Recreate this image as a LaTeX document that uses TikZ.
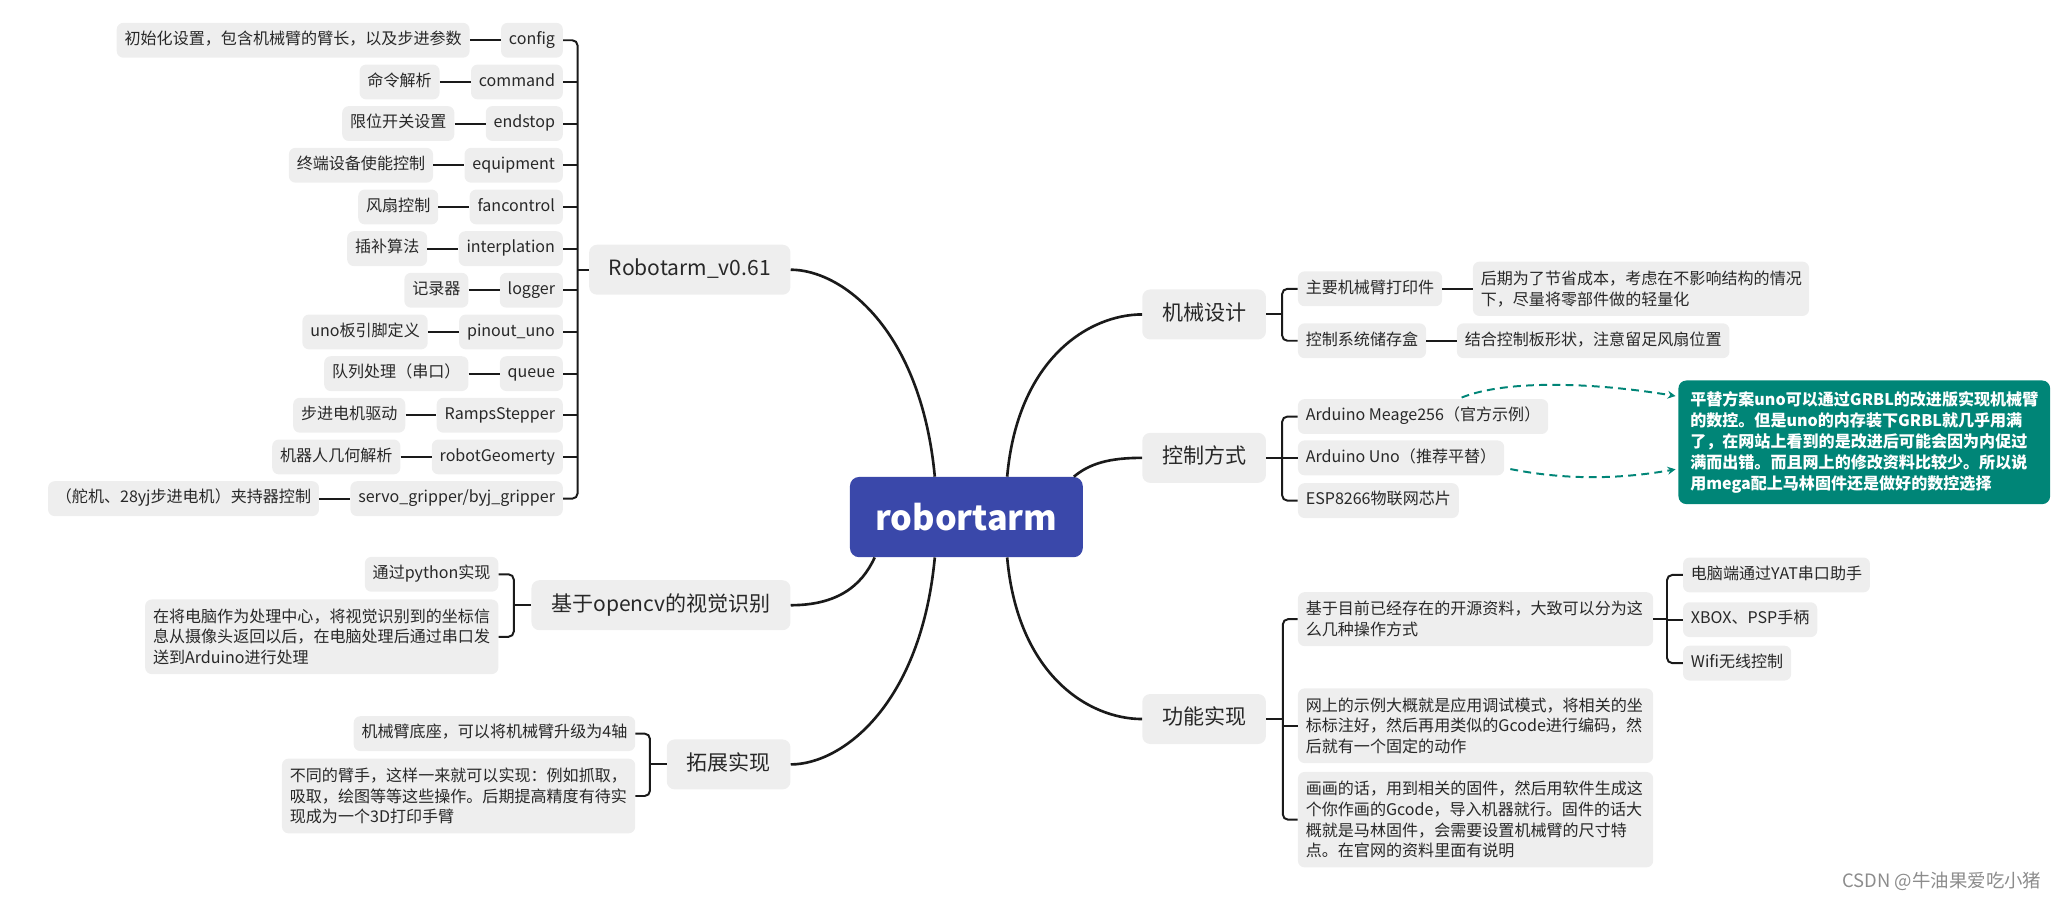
\documentclass[tikz,border=0pt]{standalone}
\usepackage{fontspec}
\setmainfont{Noto Sans CJK SC}
\usetikzlibrary{calc,arrows.meta}
\definecolor{boxgray}{RGB}{238,238,238}
\definecolor{rootblue}{RGB}{58,72,170}
\definecolor{tealc}{RGB}{0,133,119}
\definecolor{linec}{RGB}{26,26,26}
\definecolor{txt}{RGB}{40,40,40}
\begin{document}
\begin{tikzpicture}[x=1pt,y=-1pt,
  every node/.style={text=txt},
  box/.style={fill=boxgray, rounded corners=5pt, inner xsep=6pt, font=\fontsize{12.2}{15.7}\selectfont},
  sbox/.style={box, text height=9.5pt, text depth=3pt, inner ysep=7pt},
  mbox/.style={box, align=left, inner ysep=7pt},
  mainbox/.style={fill=boxgray, rounded corners=6pt, inner xsep=15pt, text height=12.5pt, text depth=3.5pt, inner ysep=11pt, font=\fontsize{16}{20}\selectfont},
  rootbox/.style={fill=rootblue, rounded corners=7pt, text=white, minimum width=177pt, minimum height=61pt, inner sep=0pt, font=\fontsize{26}{30}\selectfont\bfseries},
  notebox/.style={fill=tealc, rounded corners=6pt, text=white, align=left, text width=264.5pt, inner xsep=9pt, inner ysep=8pt, font=\fontsize{12.2}{16.1}\selectfont\bfseries},
  wire/.style={draw=linec, line width=1.5pt},
  bracket/.style={wire, rounded corners=4pt},
  trunk/.style={draw=linec, line width=2pt},
  dasharrow/.style={draw=tealc, line width=1.5pt, dash pattern=on 6pt off 4pt, -{Stealth[length=6pt,width=6pt]}},
  wmark/.style={text=black!45, font=\fontsize{14}{16}\selectfont}
]
\useasboundingbox (0,0) rectangle (1568,684);

% ---------- root ----------
\node[rootbox] (root) at (734.5,393) {robortarm};

% ---------- Robotarm_v0.61 ----------
\node[mainbox, anchor=east] (rt) at (601,205) {Robotarm\_v0.61};
\coordinate (bxA) at (439,205);
\node[sbox, anchor=east] (l0)  at (428,30.6)  {config};
\node[sbox, anchor=east] (l1)  at (428,62.3)  {command};
\node[sbox, anchor=east] (l2)  at (428,93.9)  {endstop};
\node[sbox, anchor=east] (l3)  at (428,125.6) {equipment};
\node[sbox, anchor=east] (l4)  at (428,157.3) {fancontrol};
\node[sbox, anchor=east] (l5)  at (428,189.0) {interplation};
\node[sbox, anchor=east] (l6)  at (428,220.6) {logger};
\node[sbox, anchor=east] (l7)  at (428,252.3) {pinout\_uno};
\node[sbox, anchor=east] (l8)  at (428,284.0) {queue};
\node[sbox, anchor=east] (l9)  at (428,315.6) {RampsStepper};
\node[sbox, anchor=east] (l10) at (428,347.3) {robotGeomerty};
\node[sbox, anchor=east] (l11) at (428,379.0) {servo\_gripper/byj\_gripper};

\node[sbox, anchor=east] (d0)  at ($(l0.west)+(-23.5,0)$)  {初始化设置，包含机械臂的臂长，以及步进参数};
\node[sbox, anchor=east] (d1)  at ($(l1.west)+(-23.5,0)$)  {命令解析};
\node[sbox, anchor=east] (d2)  at ($(l2.west)+(-23.5,0)$)  {限位开关设置};
\node[sbox, anchor=east] (d3)  at ($(l3.west)+(-23.5,0)$)  {终端设备使能控制};
\node[sbox, anchor=east] (d4)  at ($(l4.west)+(-23.5,0)$)  {风扇控制};
\node[sbox, anchor=east] (d5)  at ($(l5.west)+(-23.5,0)$)  {插补算法};
\node[sbox, anchor=east] (d6)  at ($(l6.west)+(-23.5,0)$)  {记录器};
\node[sbox, anchor=east] (d7)  at ($(l7.west)+(-23.5,0)$)  {uno板引脚定义};
\node[sbox, anchor=east] (d8)  at ($(l8.west)+(-23.5,0)$)  {队列处理（串口）};
\node[sbox, anchor=east] (d9)  at ($(l9.west)+(-23.5,0)$)  {步进电机驱动};
\node[sbox, anchor=east] (d10) at ($(l10.west)+(-23.5,0)$) {机器人几何解析};
\node[sbox, anchor=east] (d11) at ($(l11.west)+(-23.5,0)$) {（舵机、28yj步进电机）夹持器控制};

\draw[bracket] (l0.east) -- (l0.east -| bxA) -- (l11.east -| bxA) -- (l11.east);
\foreach \i in {1,...,10} {\draw[wire] (l\i.east) -- (l\i.east -| bxA);}
\draw[wire] (rt.west) -- (bxA);
\foreach \i in {0,...,11} {\draw[wire] (d\i.east) -- (l\i.west);}

% ---------- opencv ----------
\node[mainbox, anchor=east] (cv) at (601,460) {基于opencv的视觉识别};
\coordinate (bxB) at (390.5,460);
\node[sbox, anchor=east] (py) at (379,436.5) {通过python实现};
\node[mbox, anchor=east, text width=256.5pt] (cvd) at (379,484) {在将电脑作为处理中心，将视觉识别到的坐标信\\息从摄像头返回以后，在电脑处理后通过串口发\\送到Arduino进行处理};
\draw[bracket] (py.east) -- (py.east -| bxB) -- (cvd.east -| bxB) -- (cvd.east);
\draw[wire] (cv.west) -- (bxB);

% ---------- extension ----------
\node[mainbox, anchor=east] (ext) at (601,581) {拓展实现};
\coordinate (bxC) at (494,581);
\node[sbox, anchor=east] (base) at (483,557.6) {机械臂底座，可以将机械臂升级为4轴};
\node[mbox, anchor=east, text width=256.5pt] (diff) at (483,605) {不同的臂手，这样一来就可以实现：例如抓取，\\吸取，绘图等等这些操作。后期提高精度有待实\\现成为一个3D打印手臂};
\draw[bracket] (base.east) -- (base.east -| bxC) -- (diff.east -| bxC) -- (diff.east);
\draw[wire] (ext.west) -- (bxC);

% ---------- mechanical design ----------
\node[mainbox, anchor=west] (mech) at (868,239) {机械设计};
\coordinate (bxD) at (974.5,239);
\node[sbox, anchor=west] (m1) at (986.3,219.5) {主要机械臂打印件};
\node[sbox, anchor=west] (m2) at (986.3,259) {控制系统储存盒};
\node[mbox, anchor=west, text width=243.5pt] (m1d) at ($(m1.east)+(23,0)$) {后期为了节省成本，考虑在不影响结构的情况\\下，尽量将零部件做的轻量化};
\node[sbox, anchor=west] (m2d) at ($(m2.east)+(23,0)$) {结合控制板形状，注意留足风扇位置};
\draw[bracket] (m1.west) -- (m1.west -| bxD) -- (m2.west -| bxD) -- (m2.west);
\draw[wire] (mech.east) -- (bxD);
\draw[wire] (m1.east) -- (m1d.west |- m1.east);
\draw[wire] (m2.east) -- (m2d.west);

% ---------- control ----------
\node[mainbox, anchor=west] (ctrl) at (868,348) {控制方式};
\coordinate (bxE) at (974.5,348);
\node[sbox, anchor=west] (c1) at (986.3,316.6) {Arduino Meage256（官方示例）};
\node[sbox, anchor=west] (c2) at (986.3,348) {Arduino Uno（推荐平替）};
\node[sbox, anchor=west] (c3) at (986.3,380.5) {ESP8266物联网芯片};
\draw[bracket] (c1.west) -- (c1.west -| bxE) -- (c3.west -| bxE) -- (c3.west);
\draw[wire] (ctrl.east) -- (c2.west);
\node[notebox, anchor=north west] (note) at (1275.5,289) {平替方案uno可以通过GRBL的改进版实现机械臂\\的数控。但是uno的内存装下GRBL就几乎用满\\了，在网站上看到的是改进后可能会因为内促过\\满而出错。而且网上的修改资料比较少。所以说\\用mega配上马林固件还是做好的数控选择};
\draw[dasharrow] ($(c1.north east)+(-66,-1)$) .. controls +(35,-14) and +(-60,-10) .. ($(note.north west)+(-2,12)$);
\draw[dasharrow] ($(c2.east)+(4.5,8.5)$) .. controls +(40,8) and +(-45,8) .. ($(note.north west)+(-2,67.7)$);

% ---------- function ----------
\node[mainbox, anchor=west] (func) at (868,546.5) {功能实现};
\coordinate (bxF) at (975,546.5);
\node[mbox, anchor=west, text width=258pt] (f1) at (986.3,470.6) {基于目前已经存在的开源资料，大致可以分为这\\么几种操作方式};
\node[mbox, anchor=west, text width=258pt] (f2) at (986.3,551.6) {网上的示例大概就是应用调试模式，将相关的坐\\标标注好，然后再用类似的Gcode进行编码，然\\后就有一个固定的动作};
\node[mbox, anchor=west, text width=258pt] (f3) at (986.3,623) {画画的话，用到相关的固件，然后用软件生成这\\个你作画的Gcode，导入机器就行。固件的话大\\概就是马林固件，会需要设置机械臂的尺寸特\\点。在官网的资料里面有说明};
\draw[bracket] (f1.west) -- (f1.west -| bxF) -- (f3.west -| bxF) -- (f3.west);
\draw[wire] (func.east) -- (bxF);
\draw[wire] (f2.west) -- (f2.west -| bxF);
\coordinate (bxG) at (1267,470.6);
\node[sbox, anchor=west] (g1) at (1279,437) {电脑端通过YAT串口助手};
\node[sbox, anchor=west] (g2) at (1279,471) {XBOX、PSP手柄};
\node[sbox, anchor=west] (g3) at (1279,504) {Wifi无线控制};
\draw[bracket] (g1.west) -- (g1.west -| bxG) -- (g3.west -| bxG) -- (g3.west);
\draw[wire] (f1.east) -- (bxG);
\draw[wire] (g2.west) -- (g2.west -| bxG);

% ---------- trunks ----------
\draw[trunk] ($(root.north)+(-24,0)$) .. controls +(-10.5,-112) and +(39,0) .. (rt.east);
\draw[trunk] ($(root.north)+(31,0)$) .. controls +(8,-90) and +(-40,0) .. (mech.west);
\draw[trunk] ($(root.north east)+(-7,0)$) .. controls +(12,-10) and +(-25,0) .. (ctrl.west);
\draw[trunk] ($(root.south west)+(19,0)$) .. controls +(-10,22) and +(35,0) .. (cv.east);
\draw[trunk] ($(root.south)+(-24,0)$) .. controls +(-10.5,112) and +(39,0) .. (ext.east);
\draw[trunk] ($(root.south)+(31,0)$) .. controls +(8,90) and +(-40,0) .. (func.west);

% ---------- watermark ----------
\node[wmark, anchor=east] (wm) at (1555,670) {CSDN @牛油果爱吃小猪};
\end{tikzpicture}
\end{document}
